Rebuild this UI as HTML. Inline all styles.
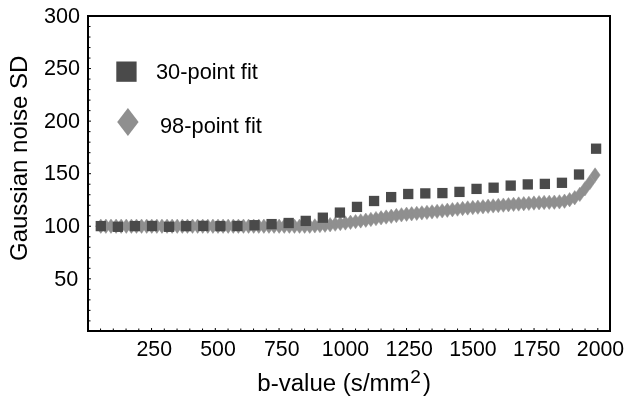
<!DOCTYPE html>
<html><head><meta charset="utf-8"><title>Gaussian noise SD vs b-value</title>
<style>html,body{margin:0;padding:0;background:#fff}svg{display:block}</style></head>
<body>
<svg width="629" height="399" viewBox="0 0 629 399">
<rect width="629" height="399" fill="#fff"/>
<g fill="#8f8f8f" stroke="#8f8f8f" stroke-width="0.5" stroke-linejoin="miter">
<path d="M100.80 219.00L105.90 226.20L100.80 233.40L95.70 226.20Z"/>
<path d="M105.90 219.00L111.00 226.20L105.90 233.40L100.80 226.20Z"/>
<path d="M110.99 219.00L116.09 226.20L110.99 233.40L105.89 226.20Z"/>
<path d="M116.09 219.00L121.19 226.20L116.09 233.40L110.99 226.20Z"/>
<path d="M121.18 219.00L126.28 226.20L121.18 233.40L116.08 226.20Z"/>
<path d="M126.28 219.00L131.38 226.20L126.28 233.40L121.18 226.20Z"/>
<path d="M131.38 219.00L136.48 226.20L131.38 233.40L126.28 226.20Z"/>
<path d="M136.47 219.00L141.57 226.20L136.47 233.40L131.37 226.20Z"/>
<path d="M141.57 219.00L146.67 226.20L141.57 233.40L136.47 226.20Z"/>
<path d="M146.66 219.00L151.76 226.20L146.66 233.40L141.56 226.20Z"/>
<path d="M151.76 219.00L156.86 226.20L151.76 233.40L146.66 226.20Z"/>
<path d="M156.85 219.00L161.95 226.20L156.85 233.40L151.75 226.20Z"/>
<path d="M161.95 219.00L167.05 226.20L161.95 233.40L156.85 226.20Z"/>
<path d="M167.05 219.00L172.15 226.20L167.05 233.40L161.95 226.20Z"/>
<path d="M172.14 219.00L177.24 226.20L172.14 233.40L167.04 226.20Z"/>
<path d="M177.24 219.00L182.34 226.20L177.24 233.40L172.14 226.20Z"/>
<path d="M182.33 219.00L187.43 226.20L182.33 233.40L177.23 226.20Z"/>
<path d="M187.43 219.00L192.53 226.20L187.43 233.40L182.33 226.20Z"/>
<path d="M192.53 219.00L197.63 226.20L192.53 233.40L187.43 226.20Z"/>
<path d="M197.62 219.00L202.72 226.20L197.62 233.40L192.52 226.20Z"/>
<path d="M202.72 219.00L207.82 226.20L202.72 233.40L197.62 226.20Z"/>
<path d="M207.81 219.00L212.91 226.20L207.81 233.40L202.71 226.20Z"/>
<path d="M212.91 219.00L218.01 226.20L212.91 233.40L207.81 226.20Z"/>
<path d="M218.01 219.00L223.11 226.20L218.01 233.40L212.91 226.20Z"/>
<path d="M223.10 219.00L228.20 226.20L223.10 233.40L218.00 226.20Z"/>
<path d="M228.20 219.00L233.30 226.20L228.20 233.40L223.10 226.20Z"/>
<path d="M233.29 219.00L238.39 226.20L233.29 233.40L228.19 226.20Z"/>
<path d="M238.39 219.00L243.49 226.20L238.39 233.40L233.29 226.20Z"/>
<path d="M243.48 219.00L248.58 226.20L243.48 233.40L238.38 226.20Z"/>
<path d="M248.58 219.00L253.68 226.20L248.58 233.40L243.48 226.20Z"/>
<path d="M253.68 219.00L258.78 226.20L253.68 233.40L248.58 226.20Z"/>
<path d="M258.77 219.00L263.87 226.20L258.77 233.40L253.67 226.20Z"/>
<path d="M263.87 219.00L268.97 226.20L263.87 233.40L258.77 226.20Z"/>
<path d="M268.96 219.00L274.06 226.20L268.96 233.40L263.86 226.20Z"/>
<path d="M274.06 219.00L279.16 226.20L274.06 233.40L268.96 226.20Z"/>
<path d="M279.16 219.00L284.26 226.20L279.16 233.40L274.06 226.20Z"/>
<path d="M284.25 219.00L289.35 226.20L284.25 233.40L279.15 226.20Z"/>
<path d="M289.35 219.00L294.45 226.20L289.35 233.40L284.25 226.20Z"/>
<path d="M294.44 219.00L299.54 226.20L294.44 233.40L289.34 226.20Z"/>
<path d="M299.54 219.00L304.64 226.20L299.54 233.40L294.44 226.20Z"/>
<path d="M304.64 219.00L309.74 226.20L304.64 233.40L299.54 226.20Z"/>
<path d="M309.73 219.00L314.83 226.20L309.73 233.40L304.63 226.20Z"/>
<path d="M314.83 218.68L319.93 225.88L314.83 233.08L309.73 225.88Z"/>
<path d="M319.92 218.34L325.02 225.54L319.92 232.74L314.82 225.54Z"/>
<path d="M325.02 218.00L330.12 225.20L325.02 232.40L319.92 225.20Z"/>
<path d="M330.11 217.56L335.21 224.76L330.11 231.96L325.01 224.76Z"/>
<path d="M335.21 216.97L340.31 224.17L335.21 231.37L330.11 224.17Z"/>
<path d="M340.31 216.38L345.41 223.58L340.31 230.78L335.21 223.58Z"/>
<path d="M345.40 215.79L350.50 222.99L345.40 230.19L340.30 222.99Z"/>
<path d="M350.50 215.12L355.60 222.32L350.50 229.52L345.40 222.32Z"/>
<path d="M355.59 214.42L360.69 221.62L355.59 228.82L350.49 221.62Z"/>
<path d="M360.69 213.73L365.79 220.93L360.69 228.13L355.59 220.93Z"/>
<path d="M365.79 213.03L370.89 220.23L365.79 227.43L360.69 220.23Z"/>
<path d="M370.88 212.23L375.98 219.43L370.88 226.63L365.78 219.43Z"/>
<path d="M375.98 211.42L381.08 218.62L375.98 225.82L370.88 218.62Z"/>
<path d="M381.07 210.62L386.17 217.82L381.07 225.02L375.97 217.82Z"/>
<path d="M386.17 209.83L391.27 217.03L386.17 224.23L381.07 217.03Z"/>
<path d="M391.26 209.10L396.36 216.30L391.26 223.50L386.16 216.30Z"/>
<path d="M396.36 208.37L401.46 215.57L396.36 222.77L391.26 215.57Z"/>
<path d="M401.46 207.64L406.56 214.84L401.46 222.04L396.36 214.84Z"/>
<path d="M406.55 207.03L411.65 214.23L406.55 221.43L401.45 214.23Z"/>
<path d="M411.65 206.61L416.75 213.81L411.65 221.01L406.55 213.81Z"/>
<path d="M416.74 206.17L421.84 213.37L416.74 220.57L411.64 213.37Z"/>
<path d="M421.84 205.67L426.94 212.87L421.84 220.07L416.74 212.87Z"/>
<path d="M426.94 205.17L432.04 212.37L426.94 219.57L421.84 212.37Z"/>
<path d="M432.03 204.67L437.13 211.87L432.03 219.07L426.93 211.87Z"/>
<path d="M437.13 204.17L442.23 211.37L437.13 218.57L432.03 211.37Z"/>
<path d="M442.22 203.65L447.32 210.85L442.22 218.05L437.12 210.85Z"/>
<path d="M447.32 203.07L452.42 210.27L447.32 217.47L442.22 210.27Z"/>
<path d="M452.42 202.49L457.52 209.69L452.42 216.89L447.32 209.69Z"/>
<path d="M457.51 201.90L462.61 209.10L457.51 216.30L452.41 209.10Z"/>
<path d="M462.61 201.32L467.71 208.52L462.61 215.72L457.51 208.52Z"/>
<path d="M467.70 200.78L472.80 207.98L467.70 215.18L462.60 207.98Z"/>
<path d="M472.80 200.36L477.90 207.56L472.80 214.76L467.70 207.56Z"/>
<path d="M477.89 199.95L482.99 207.15L477.89 214.35L472.79 207.15Z"/>
<path d="M482.99 199.53L488.09 206.73L482.99 213.93L477.89 206.73Z"/>
<path d="M488.09 199.11L493.19 206.31L488.09 213.51L482.99 206.31Z"/>
<path d="M493.18 198.70L498.28 205.90L493.18 213.10L488.08 205.90Z"/>
<path d="M498.28 198.32L503.38 205.52L498.28 212.72L493.18 205.52Z"/>
<path d="M503.37 197.93L508.47 205.13L503.37 212.33L498.27 205.13Z"/>
<path d="M508.47 197.55L513.57 204.75L508.47 211.95L503.37 204.75Z"/>
<path d="M513.57 197.17L518.67 204.37L513.57 211.57L508.47 204.37Z"/>
<path d="M518.66 196.81L523.76 204.01L518.66 211.21L513.56 204.01Z"/>
<path d="M523.76 196.49L528.86 203.69L523.76 210.89L518.66 203.69Z"/>
<path d="M528.85 196.17L533.95 203.37L528.85 210.57L523.75 203.37Z"/>
<path d="M533.95 195.85L539.05 203.05L533.95 210.25L528.85 203.05Z"/>
<path d="M539.05 195.53L544.15 202.73L539.05 209.93L533.95 202.73Z"/>
<path d="M544.14 195.26L549.24 202.46L544.14 209.66L539.04 202.46Z"/>
<path d="M549.24 195.13L554.34 202.33L549.24 209.53L544.14 202.33Z"/>
<path d="M554.33 194.99L559.43 202.19L554.33 209.39L549.23 202.19Z"/>
<path d="M559.43 194.70L564.53 201.90L559.43 209.10L554.33 201.90Z"/>
<path d="M564.52 193.99L569.62 201.19L564.52 208.39L559.42 201.19Z"/>
<path d="M569.62 192.52L574.72 199.72L569.62 206.92L564.52 199.72Z"/>
<path d="M574.72 190.53L579.82 197.73L574.72 204.93L569.62 197.73Z"/>
<path d="M579.81 187.22L584.91 194.42L579.81 201.62L574.71 194.42Z"/>
<path d="M584.91 181.63L590.01 188.83L584.91 196.03L579.81 188.83Z"/>
<path d="M590.00 175.05L595.10 182.25L590.00 189.45L584.90 182.25Z"/>
<path d="M595.10 167.80L600.20 175.00L595.10 182.20L590.00 175.00Z"/>
</g>
<g fill="#4a4a4a">
<rect x="95.65" y="220.95" width="10.3" height="10.3"/>
<rect x="112.73" y="221.65" width="10.3" height="10.3"/>
<rect x="129.81" y="220.95" width="10.3" height="10.3"/>
<rect x="146.89" y="220.85" width="10.3" height="10.3"/>
<rect x="163.97" y="221.65" width="10.3" height="10.3"/>
<rect x="181.05" y="220.95" width="10.3" height="10.3"/>
<rect x="198.13" y="220.75" width="10.3" height="10.3"/>
<rect x="215.21" y="220.95" width="10.3" height="10.3"/>
<rect x="232.28" y="220.85" width="10.3" height="10.3"/>
<rect x="249.36" y="220.05" width="10.3" height="10.3"/>
<rect x="266.44" y="218.95" width="10.3" height="10.3"/>
<rect x="283.52" y="217.85" width="10.3" height="10.3"/>
<rect x="300.60" y="215.75" width="10.3" height="10.3"/>
<rect x="317.68" y="212.55" width="10.3" height="10.3"/>
<rect x="334.76" y="207.45" width="10.3" height="10.3"/>
<rect x="351.84" y="201.75" width="10.3" height="10.3"/>
<rect x="368.92" y="195.85" width="10.3" height="10.3"/>
<rect x="386.00" y="191.95" width="10.3" height="10.3"/>
<rect x="403.08" y="188.85" width="10.3" height="10.3"/>
<rect x="420.16" y="188.25" width="10.3" height="10.3"/>
<rect x="437.24" y="187.95" width="10.3" height="10.3"/>
<rect x="454.32" y="186.75" width="10.3" height="10.3"/>
<rect x="471.39" y="183.75" width="10.3" height="10.3"/>
<rect x="488.47" y="182.55" width="10.3" height="10.3"/>
<rect x="505.55" y="180.45" width="10.3" height="10.3"/>
<rect x="522.63" y="179.25" width="10.3" height="10.3"/>
<rect x="539.71" y="178.75" width="10.3" height="10.3"/>
<rect x="556.79" y="177.65" width="10.3" height="10.3"/>
<rect x="573.87" y="169.35" width="10.3" height="10.3"/>
<rect x="590.95" y="143.55" width="10.3" height="10.3"/>
</g>
<rect x="88" y="16" width="522" height="315" fill="none" stroke="#000" stroke-width="2"/>
<g stroke="#000" stroke-width="1">
<line x1="100.55" y1="331" x2="100.55" y2="328.5"/>
<line x1="113.30" y1="331" x2="113.30" y2="328.5"/>
<line x1="126.05" y1="331" x2="126.05" y2="328.5"/>
<line x1="138.80" y1="331" x2="138.80" y2="328.5"/>
<line x1="151.55" y1="331" x2="151.55" y2="328.0"/>
<line x1="164.30" y1="331" x2="164.30" y2="328.5"/>
<line x1="177.05" y1="331" x2="177.05" y2="328.5"/>
<line x1="189.80" y1="331" x2="189.80" y2="328.5"/>
<line x1="202.55" y1="331" x2="202.55" y2="328.5"/>
<line x1="215.30" y1="331" x2="215.30" y2="328.0"/>
<line x1="228.05" y1="331" x2="228.05" y2="328.5"/>
<line x1="240.80" y1="331" x2="240.80" y2="328.5"/>
<line x1="253.55" y1="331" x2="253.55" y2="328.5"/>
<line x1="266.30" y1="331" x2="266.30" y2="328.5"/>
<line x1="279.05" y1="331" x2="279.05" y2="328.0"/>
<line x1="291.80" y1="331" x2="291.80" y2="328.5"/>
<line x1="304.55" y1="331" x2="304.55" y2="328.5"/>
<line x1="317.30" y1="331" x2="317.30" y2="328.5"/>
<line x1="330.05" y1="331" x2="330.05" y2="328.5"/>
<line x1="342.80" y1="331" x2="342.80" y2="328.0"/>
<line x1="355.55" y1="331" x2="355.55" y2="328.5"/>
<line x1="368.30" y1="331" x2="368.30" y2="328.5"/>
<line x1="381.05" y1="331" x2="381.05" y2="328.5"/>
<line x1="393.80" y1="331" x2="393.80" y2="328.5"/>
<line x1="406.55" y1="331" x2="406.55" y2="328.0"/>
<line x1="419.30" y1="331" x2="419.30" y2="328.5"/>
<line x1="432.05" y1="331" x2="432.05" y2="328.5"/>
<line x1="444.80" y1="331" x2="444.80" y2="328.5"/>
<line x1="457.55" y1="331" x2="457.55" y2="328.5"/>
<line x1="470.30" y1="331" x2="470.30" y2="328.0"/>
<line x1="483.05" y1="331" x2="483.05" y2="328.5"/>
<line x1="495.80" y1="331" x2="495.80" y2="328.5"/>
<line x1="508.55" y1="331" x2="508.55" y2="328.5"/>
<line x1="521.30" y1="331" x2="521.30" y2="328.5"/>
<line x1="534.05" y1="331" x2="534.05" y2="328.0"/>
<line x1="546.80" y1="331" x2="546.80" y2="328.5"/>
<line x1="559.55" y1="331" x2="559.55" y2="328.5"/>
<line x1="572.30" y1="331" x2="572.30" y2="328.5"/>
<line x1="585.05" y1="331" x2="585.05" y2="328.5"/>
<line x1="597.80" y1="331" x2="597.80" y2="328.0"/>
<line x1="88" y1="320.89" x2="90.5" y2="320.89"/>
<line x1="88" y1="310.37" x2="90.5" y2="310.37"/>
<line x1="88" y1="299.86" x2="90.5" y2="299.86"/>
<line x1="88" y1="289.35" x2="90.5" y2="289.35"/>
<line x1="88" y1="278.83" x2="91.0" y2="278.83"/>
<line x1="88" y1="268.32" x2="90.5" y2="268.32"/>
<line x1="88" y1="257.81" x2="90.5" y2="257.81"/>
<line x1="88" y1="247.30" x2="90.5" y2="247.30"/>
<line x1="88" y1="236.78" x2="90.5" y2="236.78"/>
<line x1="88" y1="226.27" x2="91.0" y2="226.27"/>
<line x1="88" y1="215.76" x2="90.5" y2="215.76"/>
<line x1="88" y1="205.24" x2="90.5" y2="205.24"/>
<line x1="88" y1="194.73" x2="90.5" y2="194.73"/>
<line x1="88" y1="184.22" x2="90.5" y2="184.22"/>
<line x1="88" y1="173.70" x2="91.0" y2="173.70"/>
<line x1="88" y1="163.19" x2="90.5" y2="163.19"/>
<line x1="88" y1="152.68" x2="90.5" y2="152.68"/>
<line x1="88" y1="142.17" x2="90.5" y2="142.17"/>
<line x1="88" y1="131.65" x2="90.5" y2="131.65"/>
<line x1="88" y1="121.14" x2="91.0" y2="121.14"/>
<line x1="88" y1="110.63" x2="90.5" y2="110.63"/>
<line x1="88" y1="100.11" x2="90.5" y2="100.11"/>
<line x1="88" y1="89.60" x2="90.5" y2="89.60"/>
<line x1="88" y1="79.09" x2="90.5" y2="79.09"/>
<line x1="88" y1="68.57" x2="91.0" y2="68.57"/>
<line x1="88" y1="58.06" x2="90.5" y2="58.06"/>
<line x1="88" y1="47.55" x2="90.5" y2="47.55"/>
<line x1="88" y1="37.04" x2="90.5" y2="37.04"/>
<line x1="88" y1="26.52" x2="90.5" y2="26.52"/>
</g>
<g font-family="'Liberation Sans', sans-serif" fill="#000">
<text x="78.3" y="286.24" font-size="21.6" text-anchor="end">50</text>
<text x="80" y="232.87" font-size="21.6" text-anchor="end">100</text>
<text x="80" y="180.30" font-size="21.6" text-anchor="end">150</text>
<text x="80" y="127.74" font-size="21.6" text-anchor="end">200</text>
<text x="80" y="75.17" font-size="21.6" text-anchor="end">250</text>
<text x="80" y="22.61" font-size="21.6" text-anchor="end">300</text>
<text x="154.25" y="355.5" font-size="21.3" text-anchor="middle">250</text>
<text x="218.00" y="355.5" font-size="21.3" text-anchor="middle">500</text>
<text x="281.75" y="355.5" font-size="21.3" text-anchor="middle">750</text>
<text x="345.50" y="355.5" font-size="21.3" text-anchor="middle">1000</text>
<text x="409.25" y="355.5" font-size="21.3" text-anchor="middle">1250</text>
<text x="473.00" y="355.5" font-size="21.3" text-anchor="middle">1500</text>
<text x="536.75" y="355.5" font-size="21.3" text-anchor="middle">1750</text>
<text x="600.50" y="355.5" font-size="21.3" text-anchor="middle">2000</text>
<text x="156" y="78.8" font-size="21.8">30-point fit</text>
<text x="160" y="133" font-size="21.8">98-point fit</text>
<text x="257.3" y="390.8" font-size="24.05">b-value (s/mm</text>
<text x="410.2" y="383" font-size="19">2</text>
<text x="423" y="390.6" font-size="24.05">)</text>
<text transform="translate(27,261) rotate(-90)" font-size="24">Gaussian noise SD</text>
</g>
<rect x="116.3" y="61.5" width="20.3" height="20.3" fill="#4a4a4a"/>
<path d="M127.9 108.1L138.6 122L127.9 135.9L117.2 122Z" fill="#8f8f8f"/>
</svg>
</body></html>
